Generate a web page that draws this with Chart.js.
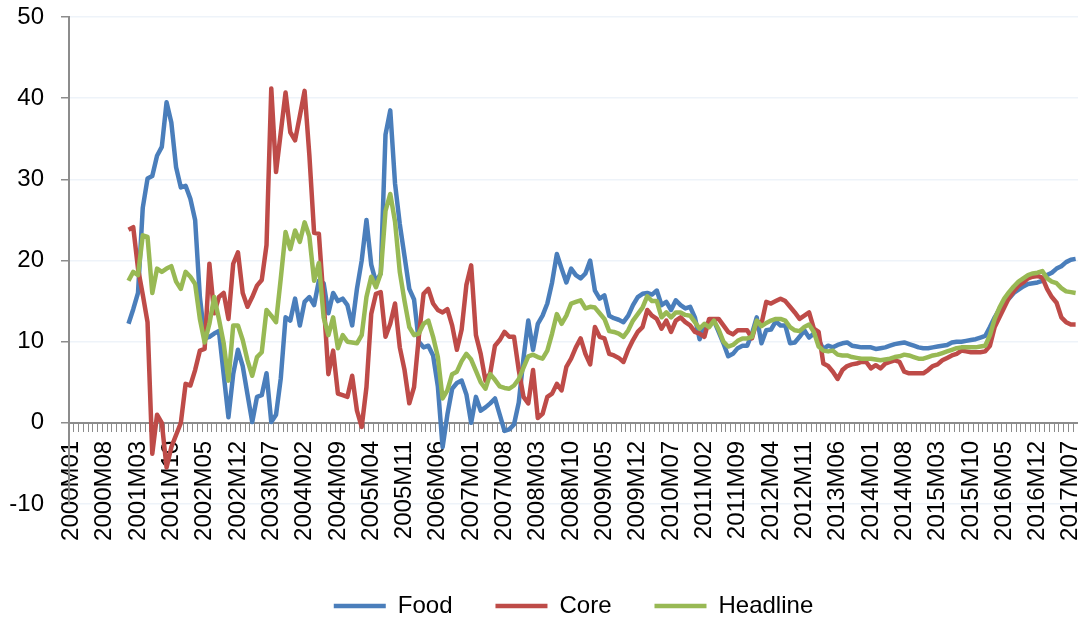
<!DOCTYPE html>
<html>
<head>
<meta charset="utf-8">
<script src="https://cdn.jsdelivr.net/npm/chart.js@4"></script>
<style>
html,body{margin:0;padding:0;background:#fff;}
#wrap{width:1078px;height:618px;}
</style>
</head>
<body>
<div id="wrap"><canvas id="c" width="1078" height="618"></canvas></div>
<script>
// Monthly categories 2000M01 .. 2017M08
const categories = [];
for (let y = 2000; y <= 2017; y++) {
  for (let m = 1; m <= 12; m++) {
    if (y === 2017 && m > 8) break;
    categories.push(y + 'M' + String(m).padStart(2, '0'));
  }
}
const tickEvery = 7; // a label every 7 months: 2000M01, 2000M08, 2001M03 ...

const food = [
  null,null,null,null,null,null,null,null,null,null,null,null,
  12.2,14.0,16.0,26.5,30.1,30.4,32.9,34.0,39.5,37.0,31.5,29.0,
  29.2,27.6,25.0,15.5,10.4,10.6,11.0,11.3,6.0,0.7,6.0,9.0,
  7.0,3.5,0.1,3.2,3.4,6.1,0.1,1.0,5.5,13.0,12.6,15.3,
  12.0,14.9,15.5,14.5,17.5,17.2,13.5,16.0,15.0,15.3,14.5,12.0,
  16.5,20.0,25.0,19.5,17.3,18.4,35.5,38.5,29.5,24.5,20.5,16.5,
  15.2,10.0,9.3,9.5,8.3,4.5,-3.0,1.0,4.2,4.9,5.2,3.5,
  0.0,3.2,1.5,1.9,2.4,3.0,1.0,-1.0,-0.8,-0.2,2.5,8.0,
  12.6,9.0,12.2,13.2,14.7,17.3,20.8,19.0,17.3,19.0,18.2,17.8,
  18.4,20.0,16.3,15.3,15.7,13.2,12.9,12.7,12.4,13.2,14.5,15.5,
  15.9,16.0,15.8,16.3,14.5,14.9,13.9,15.1,14.5,14.1,14.3,13.0,
  10.3,12.0,12.4,12.6,11.2,9.8,8.2,8.5,9.2,9.5,9.5,11.0,
  13.0,9.8,11.4,11.5,12.5,12.0,12.0,9.8,9.9,10.6,11.4,10.5,
  11.0,10.2,9.1,9.5,9.3,9.6,9.8,9.9,9.5,9.4,9.3,9.3,
  9.3,9.1,9.2,9.3,9.5,9.7,9.8,9.9,9.7,9.5,9.3,9.2,
  9.2,9.3,9.4,9.5,9.6,9.9,10.0,10.0,10.1,10.2,10.3,10.5,
  10.7,11.8,13.0,14.0,14.8,15.3,16.0,16.4,16.8,17.1,17.2,17.3,
  17.5,18.2,18.5,19.0,19.3,19.8,20.1,20.2
];

const core = [
  null,null,null,null,null,null,null,null,null,null,null,null,
  23.8,24.1,19.0,15.8,12.4,-3.8,1.0,0.0,-5.5,-3.0,-1.5,0.0,
  4.8,4.6,6.5,8.9,9.1,19.6,13.5,15.5,16.0,12.8,19.6,21.0,
  16.0,14.3,15.5,16.9,17.6,21.9,41.2,30.9,35.8,40.7,35.8,34.8,
  37.8,40.9,33.0,23.4,23.3,15.0,6.0,8.9,3.6,3.4,3.2,5.8,
  1.5,-0.5,4.4,13.4,15.9,16.1,10.6,12.2,14.7,9.3,6.5,2.4,
  4.4,10.6,15.9,16.5,14.7,13.9,13.6,14.0,12.0,9.0,11.5,17.0,
  19.4,10.8,8.5,5.2,6.1,9.5,10.2,11.2,10.6,10.6,6.5,3.2,
  2.4,6.5,0.6,1.1,3.2,3.6,4.8,4.0,6.9,7.9,9.3,10.4,
  8.5,7.2,11.8,10.6,10.4,8.5,8.3,8.0,7.5,9.0,10.2,11.2,
  11.8,13.9,13.2,12.8,11.6,12.6,11.2,12.6,13.0,12.4,12.0,11.2,
  11.0,10.6,12.8,12.8,12.8,12.0,11.2,10.9,11.4,11.4,11.4,10.4,
  12.5,12.2,14.9,14.7,15.0,15.3,15.0,14.3,13.6,12.8,13.2,13.6,
  11.6,11.2,7.3,7.0,6.3,5.4,6.5,7.0,7.2,7.3,7.5,7.5,
  6.7,7.1,6.7,7.3,7.5,7.7,7.5,6.3,6.1,6.1,6.1,6.1,
  6.5,7.0,7.2,7.7,8.0,8.3,8.5,8.9,8.8,8.7,8.7,8.7,
  8.8,9.5,11.8,13.0,14.2,15.4,16.2,16.9,17.3,17.8,18.0,18.1,
  17.9,16.5,15.5,14.8,13.0,12.4,12.1,12.1
];

const headline = [
  null,null,null,null,null,null,null,null,null,null,null,null,
  17.5,18.6,18.2,23.1,22.9,16.0,19.0,18.6,19.0,19.3,17.4,16.5,
  18.6,18.0,17.1,12.8,9.9,12.2,15.5,12.8,9.8,5.2,12.0,12.0,
  10.2,7.7,5.8,8.1,8.7,13.9,13.2,12.4,17.8,23.5,21.4,23.7,
  22.3,24.7,23.0,17.5,19.7,13.0,10.8,13.0,9.2,10.8,10.0,9.9,
  9.8,10.8,15.5,18.0,16.7,18.4,26.1,28.2,24.8,18.6,15.0,11.8,
  10.8,11.0,12.2,12.6,10.6,8.1,3.0,4.0,6.0,6.3,7.6,8.5,
  7.8,6.4,5.0,4.2,6.0,5.3,4.5,4.3,4.2,4.6,5.4,6.8,
  8.2,8.4,8.1,7.9,8.9,11.0,13.4,12.2,13.2,14.7,14.9,15.1,
  14.1,14.3,14.2,13.5,12.8,11.3,11.2,11.0,10.6,11.4,12.6,13.4,
  14.2,15.6,15.0,15.0,13.0,13.6,13.0,13.6,13.6,13.3,13.2,12.4,
  11.6,12.2,11.8,12.6,11.5,10.0,9.4,9.6,10.1,10.4,10.4,10.6,
  12.6,11.9,12.3,12.6,12.8,12.8,12.6,11.8,11.4,11.3,11.8,12.1,
  11.2,9.4,8.9,8.8,8.9,8.4,8.3,8.3,8.1,8.0,7.9,7.9,
  7.9,7.8,7.7,7.8,7.9,8.1,8.2,8.4,8.3,8.1,7.9,7.9,
  8.1,8.3,8.4,8.6,8.8,9.0,9.2,9.3,9.3,9.3,9.3,9.4,
  9.5,10.8,12.8,14.2,15.3,16.1,16.8,17.4,17.8,18.2,18.4,18.5,
  18.7,17.8,17.4,17.2,16.6,16.2,16.1,16.0
];

const yMin = -10, yMax = 50, yStep = 10;

Chart.defaults.font.family = "'Liberation Sans', Arial, sans-serif";
Chart.defaults.color = '#000';

// The x axis sits at value 0 and takes no layout room, so the legend
// would sit right under the -10 line; move it down to the bottom edge.
const legendShift = {
  id: 'legendShift',
  afterLayout(chart) {
    const l = chart.legend;
    if (!l) return;
    const dy = 47;
    l.top += dy; l.bottom += dy;
  }
};

function line(label, data, color, order) {
  return {
    label, data, order,
    borderColor: color, backgroundColor: color,
    borderWidth: 4.5, pointRadius: 0, pointHoverRadius: 0,
    tension: 0, fill: false, spanGaps: false,
    borderJoinStyle: 'round'
  };
}

new Chart(document.getElementById('c'), {
  type: 'line',
  data: {
    labels: categories,
    datasets: [
      line('Food', food, '#4a7ebb', 3),
      line('Core', core, '#be4b48', 2),
      line('Headline', headline, '#98b954', 1)
    ]
  },
  plugins: [legendShift],
  options: {
    responsive: false,
    animation: false,
    devicePixelRatio: 1,
    layout: { padding: { top: 17, left: 0, right: 0, bottom: 37 }, autoPadding: false },
    scales: {
      x: {
        type: 'category',
        offset: true,
        position: { y: 0 },
        grid: { offset: true, drawOnChartArea: false, drawTicks: true, tickLength: 8, tickColor: '#8c8c8c', tickWidth: 1 },
        border: { display: true, color: '#8c8c8c', width: 2 },
        ticks: {
          autoSkip: false, minRotation: 90, maxRotation: 90, padding: 10,
          color: '#000', font: { size: 24 },
          callback: (v, i) => (i % tickEvery === 0 ? categories[i] : '')
        },
        afterFit: s => { s.paddingLeft = 0; s.paddingRight = 0; s.paddingTop = 0; s.paddingBottom = 0; }
      },
      y: {
        min: yMin, max: yMax,
        ticks: { stepSize: yStep, color: '#000', font: { size: 24 }, padding: 17 },
        grid: { color: '#eef3f9', lineWidth: 1.5, tickColor: '#8c8c8c', tickLength: 8, tickWidth: 1.5 },
        border: { display: true, color: '#8c8c8c', width: 2 },
        afterFit: s => { s.width = 69; s.paddingTop = 0; s.paddingBottom = 0; }
      }
    },
    plugins: {
      legend: {
        position: 'bottom',
        fullSize: false,
        labels: {
          usePointStyle: true, pointStyle: 'line', pointStyleWidth: 52,
          padding: 43, color: '#000', font: { size: 24 },
          sort: (a, b) => a.datasetIndex - b.datasetIndex
        }
      },
      tooltip: { enabled: false }
    }
  }
});
</script>
</body>
</html>
